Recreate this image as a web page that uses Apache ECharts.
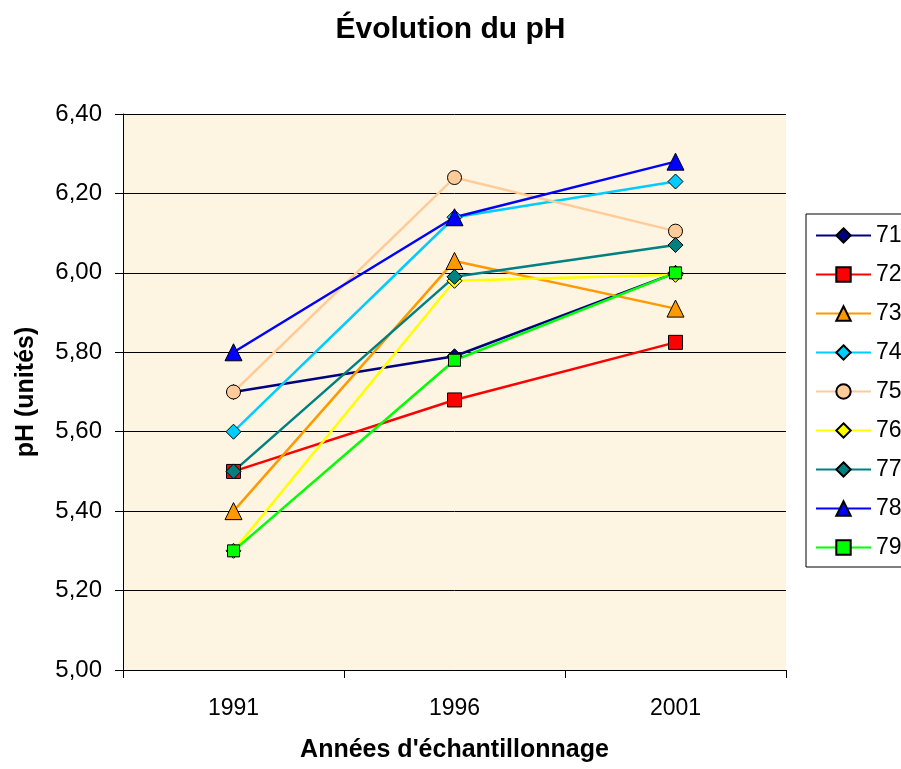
<!DOCTYPE html>
<html>
<head>
<meta charset="utf-8">
<script src="https://cdn.jsdelivr.net/npm/echarts@6/dist/echarts.min.js"></script>
<style>
  html, body { margin: 0; padding: 0; background: #fff; }
  #chart { width: 901px; height: 769px; }
</style>
</head>
<body>
<div id="chart"></div>
<script>
// années d'échantillonnage
const years = ['1991', '1996', '2001']
// pH par station
const s71 = [5.70, 5.79, 6.00]
const s72 = [5.50, 5.68, 5.825]
const s73 = [5.40, 6.03, 5.91]
const s74 = [5.60, 6.14, 6.23]
const s75 = [5.70, 6.24, 6.105]
const s76 = [5.30, 5.98, 5.995]
const s77 = [5.50, 5.99, 6.07]
const s78 = [5.80, 6.14, 6.28]
const s79 = [5.30, 5.78, 6.00]

const font = '"Liberation Sans", Arial, sans-serif'

// nom, données, couleur, symbole, taille
const stations = [
    ['71', s71, '#000080', 'diamond', 15],
    ['72', s72, '#ff0000', 'rect', 14],
    ['73', s73, '#ff9900', 'triangle', 17],
    ['74', s74, '#00ccff', 'diamond', 15],
    ['75', s75, '#ffcc99', 'circle', 14],
    ['76', s76, '#ffff00', 'diamond', 15],
    ['77', s77, '#008080', 'diamond', 15],
    ['78', s78, '#0000ff', 'triangle', 17],
    ['79', s79, '#00ff00', 'rect', 12]
]

const chart = echarts.init(document.getElementById('chart'))
chart.setOption({
    animation: false,
    title: {
        text: 'Évolution du pH',
        left: 'center',
        top: 10,
        textStyle: { fontFamily: font, fontSize: 30, fontWeight: 'bold', color: '#000' }
    },
    legend: {
        orient: 'vertical',
        left: 806,
        top: 214,
        padding: [10, 40, 8, 9],
        itemWidth: 55,
        itemHeight: 18,
        itemGap: 16,
        borderColor: '#000',
        borderWidth: 1,
        backgroundColor: '#fff',
        textStyle: { fontFamily: font, fontSize: 23, lineHeight: 23, color: '#000' },
        data: stations.map(s => s[0])
    },
    grid: {
        left: 123,
        right: 115,
        top: 114,
        bottom: 99,
        containLabel: false,
        outerBoundsMode: 'none',
        show: true,
        backgroundColor: '#fdf5e1',
        borderWidth: 0
    },
    xAxis: {
        type: 'category',
        data: years,
        name: "Années d'échantillonnage",
        nameLocation: 'middle',
        nameGap: 68,
        nameTextStyle: { fontFamily: font, fontSize: 25, fontWeight: 'bold', color: '#000' },
        axisLine: { lineStyle: { color: '#000', width: 1 } },
        axisTick: { show: true, length: 8, lineStyle: { color: '#000' } },
        axisLabel: { fontFamily: font, fontSize: 23, color: '#000', margin: 27 }
    },
    yAxis: {
        type: 'value',
        min: 5,
        max: 6.4,
        interval: 0.2,
        name: 'pH (unités)',
        nameLocation: 'middle',
        nameGap: 84,
        nameTextStyle: { fontFamily: font, fontSize: 25, fontWeight: 'bold', color: '#000' },
        axisLine: { show: true, lineStyle: { color: '#000', width: 1 } },
        axisTick: { show: true, length: 8, lineStyle: { color: '#000' } },
        axisLabel: {
            fontFamily: font, fontSize: 24, color: '#000', margin: 21,
            formatter: v => v.toFixed(2).replace('.', ',')
        },
        splitLine: { lineStyle: { color: '#000', width: 1 } }
    },
    series: stations.map(s => ({
        name: s[0],
        type: 'line',
        data: s[1],
        symbol: s[3],
        symbolSize: s[4],
        showAllSymbol: true,
        lineStyle: { color: s[2], width: 2.5 },
        itemStyle: { color: s[2], borderColor: '#000', borderWidth: 1 }
    }))
})
</script>
</body>
</html>
